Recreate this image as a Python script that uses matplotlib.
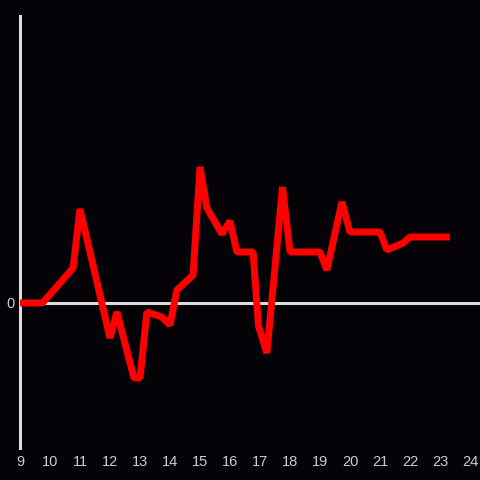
import matplotlib
matplotlib.use("Agg")
import matplotlib.pyplot as plt

# hours of the day and the value at each point
hours = [9.0, 9.75, 10.77, 11.0, 12.0, 12.23, 12.8, 13.0, 13.23, 13.73, 14.0, 14.23,
         14.77, 15.0, 15.23, 15.73, 16.0, 16.23, 16.77, 16.95, 17.23, 17.75, 18.0,
         19.0, 19.23, 19.73, 20.0, 21.0, 21.23, 21.77, 22.0, 23.33]
values = [0.0, 0.0, 3.5, 9.4, -3.5, -0.9, -7.5, -7.5, -0.9, -1.4, -2.2, 1.3,
          2.8, 13.6, 9.5, 6.9, 8.2, 5.1, 5.1, -2.3, -5.0, 11.6, 5.1,
          5.1, 3.3, 10.1, 7.1, 7.1, 5.3, 6.0, 6.6, 6.6]
xticks = list(range(9, 25))

bg = "#050307"
fig = plt.figure(figsize=(4.8, 4.8), dpi=100, facecolor=bg)
ax = fig.add_axes([20 / 480, 32 / 480, 460 / 480, 432 / 480], facecolor=bg)

ax.plot(hours, values, color="#ff0000", lw=5, solid_joinstyle="bevel",
        solid_capstyle="butt", zorder=3)
ax.axhline(0, color="#dddddd", lw=2.2, zorder=2)

ax.set_xlim(9, 9 + 460 / 30)
ax.set_ylim(-14.5, 28.7)

for s in ["top", "right", "bottom"]:
    ax.spines[s].set_visible(False)
ax.spines["left"].set_color("#dddddd")
ax.spines["left"].set_linewidth(2.2)

ax.set_xticks(xticks)
ax.set_xticklabels([str(t) for t in xticks])
ax.set_yticks([0])
ax.set_yticklabels(["0"])
ax.tick_params(length=0, colors="#cccccc", labelsize=10.5)
ax.tick_params(axis="x", pad=5)
ax.tick_params(axis="y", pad=4)
for lab in ax.get_xticklabels() + ax.get_yticklabels():
    lab.set_family("Liberation Sans")

fig.savefig("out.png", dpi=100, facecolor=bg)
